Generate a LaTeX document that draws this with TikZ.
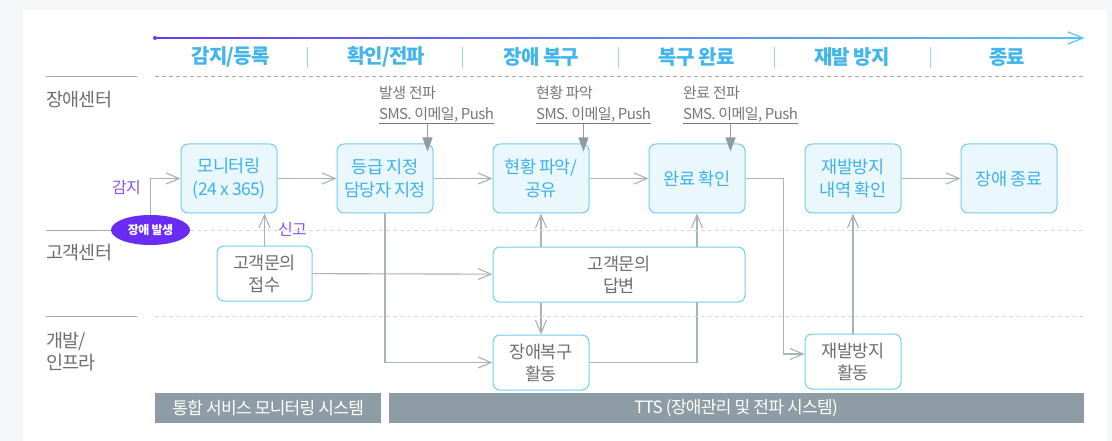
\documentclass[tikz,border=0pt]{standalone}
\usepackage{fontspec}
\setmainfont{Noto Sans CJK KR}[LetterSpace=-4]
\usetikzlibrary{arrows.meta,positioning,calc,shapes.geometric,backgrounds}
\definecolor{pagegray}{HTML}{F4F6F8}
\definecolor{boxline}{HTML}{72CCF3}
\definecolor{boxfill}{HTML}{EAF7FD}
\definecolor{boxtext}{HTML}{3DB2E9}
\definecolor{phaseblue}{HTML}{42B6EC}
\definecolor{sepblue}{HTML}{8FD5F5}
\definecolor{linegray}{HTML}{A8B3B9}
\definecolor{dashgray}{HTML}{9FAAB1}
\definecolor{lanegray}{HTML}{D2D8DC}
\definecolor{textgray}{HTML}{6E6E6E}
\definecolor{notegray}{HTML}{777777}
\definecolor{pushgray}{HTML}{8F9CA4}
\definecolor{barfill}{HTML}{8E9DA5}
\definecolor{alarmpurple}{HTML}{6A2CF4}
\definecolor{tagpurple}{HTML}{8A52F2}
\definecolor{tlpurple}{HTML}{6C3AF0}
\definecolor{tlblue}{HTML}{55C4F5}

\tikzset{
  stepbox/.style={draw=boxline, fill=boxfill, line width=1pt, rounded corners=7pt,
    minimum width=96pt, minimum height=69pt, inner sep=0pt, align=center,
    text=boxtext, font=\fontsize{17.5}{23}\selectfont},
  actbox/.style={stepbox, fill=white, text=textgray, minimum height=55pt,
    font=\fontsize{17.5}{22}\selectfont},
  flow/.style={draw=linegray, line width=1.1pt, -{Straight Barb[length=13pt,width=11pt]}},
  push/.style={draw=pushgray, line width=1.2pt, -{Triangle[length=14pt,width=10pt]}, shorten >=-8pt},
  note/.style={inner sep=0pt, text=notegray, font=\fontsize{15}{17}\selectfont},
  tag/.style={inner sep=0pt, text=tagpurple, font=\fontsize{16}{18}\selectfont},
  phase/.style={text=phaseblue, font=\bfseries\fontsize{20}{22}\selectfont},
  lane/.style={anchor=west, inner sep=0pt, text=textgray, align=left, font=\fontsize{18.5}{22}\selectfont},
  sysbar/.style={fill=barfill, text=white, minimum height=30pt, inner sep=0pt,
    anchor=north west, font=\fontsize{17}{19}\selectfont},
}

\begin{document}
\begin{tikzpicture}[x=1pt,y=-1pt]
  \useasboundingbox (0,0) rectangle (1112,441);
  \begin{scope}[on background layer]
    \fill[pagegray] (0,0) rectangle (1112,441);
    \fill[white] (23,10) rectangle (1107,441);
  \end{scope}

  % timeline and phases
  \coordinate (tl0) at (155,38);
  \coordinate (tl1) at (1083,38);
  \shade[left color=tlpurple, right color=tlblue] ($(tl0)+(0,-0.7)$) rectangle ($(tl1)+(-1,0.7)$);
  \fill[tlpurple] (tl0) circle (2pt);
  \draw[tlblue, line width=1.2pt] ($(tl1)+(-15,-6)$) -- (tl1) -- ($(tl1)+(-15,6)$);
  \foreach \ph [count=\i] in {감지/등록, 확인/전파, 장애 복구, 복구 완료, 재발 방지, 종료} {
    \node[phase] (ph\i) at (75.5+155.3*\i, 57) {\ph};
  }
  \foreach \j in {1,...,5} {
    \draw[sepblue, line width=1pt] (151.25+155.75*\j, 47) -- (151.25+155.75*\j, 68);
  }

  % lanes
  \foreach \yy/\c in {77/dashgray, 230/lanegray, 316/lanegray} {
    \draw[dashgray, line width=1pt] (46,\yy) -- (137,\yy);
    \draw[\c, line width=1pt, dash pattern=on 4pt off 3pt] (155,\yy) -- (1083,\yy);
  }
  \node[lane] (l1) at (46,100) {장애센터};
  \node[lane] (l2) at (46,253) {고객센터};
  \node[lane] (l3) at (46,352) {개발/\\인프라};

  % steps
  \node[stepbox] (mon) at (229,178.5) {모니터링\\(24 x 365)};
  \node[stepbox, right=59pt of mon] (grd) {등급 지정\\담당자 지정};
  \node[stepbox, right=59pt of grd] (cur) {현황 파악/\\공유};
  \node[stepbox, right=59pt of cur] (fin) {완료 확인};
  \node[stepbox, right=59pt of fin] (rec) {재발방지\\내역 확인};
  \node[stepbox, right=59pt of rec] (end) {장애 종료};

  \node[actbox, minimum width=95pt] (rcv) at (264.5,273.5) {고객문의\\접수};
  \node[actbox, minimum width=252pt, below=33pt of cur.south west, anchor=north west] (ans) {고객문의\\답변};
  \node[actbox, below=32pt of ans.south west, anchor=north west] (act) {장애복구\\활동};
  \node[actbox, below=120pt of rec] (prv) {재발방지\\활동};

  \node[ellipse, fill=alarmpurple, minimum width=79pt, minimum height=30pt, inner sep=0pt,
        text=white, font=\bfseries\fontsize{12}{14}\selectfont] (alarm) at (150.5,230) {장애 발생};

  % notices
  \foreach \bx/\xx/\ttl/\dx [count=\i] in {grd/379/발생 전파/6, cur/536/현황 파악/6, fin/683/완료 전파/15} {
    \node[note, anchor=base west] (sms\i) at (\xx,120) {SMS. 이메일, Push};
    \node[note, anchor=base west] (tit\i) at (\xx,99) {\ttl};
    \coordinate (ul\i) at ($(sms\i.base west)+(0,4)$);
    \draw[notegray, line width=1pt] (ul\i) -- (ul\i -| sms\i.east);
    \coordinate (ar\i) at ($(\bx.north east)+(-\dx,0)$);
    \draw[push] (ar\i |- ul\i) -- (ar\i);
  }

  \node[sysbar, minimum width=226pt] (sys1) at (155,393) {통합 서비스 모니터링 시스템};
  \node[sysbar, minimum width=695pt, right=7pt of sys1.north east, anchor=north west] (sys2) {TTS (장애관리 및 전파 시스템)};

  % flows
  \begin{scope}[on background layer]
    \draw[flow] (alarm.north) |- node[tag, pos=0.38, left=9pt] {감지} (mon.west);
    \draw[flow] (mon) -- (grd);
    \draw[flow] (grd) -- (cur);
    \draw[flow] (cur) -- (fin);
    \draw[flow] (rec) -- (end);
    \draw[flow] (rcv.north) -- (rcv.north |- mon.south) node[tag, midway, right=13pt] {신고};
    \draw[flow] (rcv) -- (ans);
    \draw[flow] (grd.south) |- (act.west);
    \draw[flow] (ans.south -| act.north) -- (act.north);
    \draw[flow] (ans.north -| cur.south) -- (cur.south);
    \draw[flow] (act.east) -| (fin.south);
    \draw[flow] (fin.east) -- ++(38,0) |- ([yshift=7.5pt]prv.west);
    \draw[flow] (prv) -- (rec);
  \end{scope}
\end{tikzpicture}
\end{document}
